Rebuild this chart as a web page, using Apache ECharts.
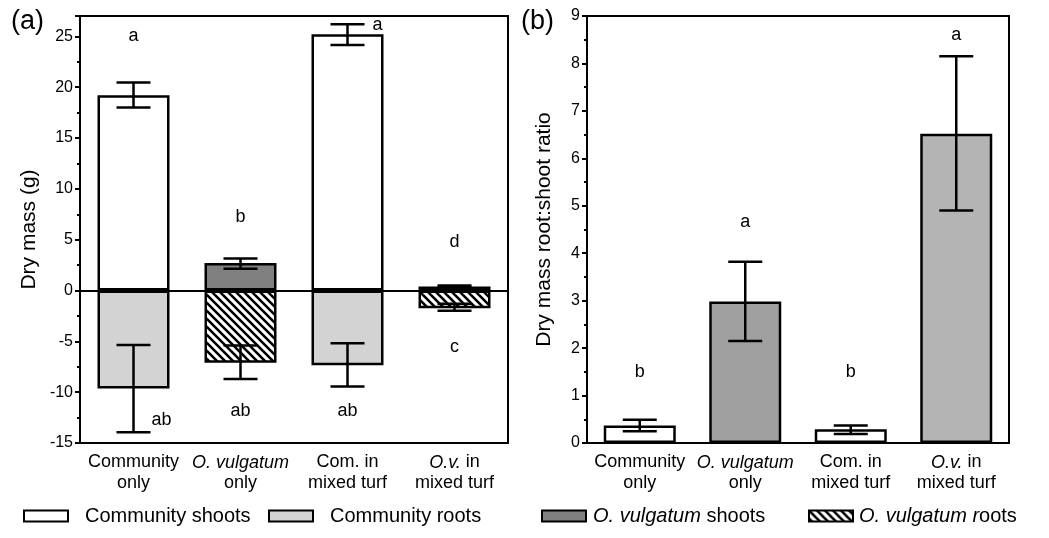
<!DOCTYPE html>
<html>
<head>
<meta charset="utf-8">
<script src="https://cdn.jsdelivr.net/npm/echarts@6/dist/echarts.min.js"></script>
<style>
html, body { margin: 0; padding: 0; background: #fff; }
#main { width: 1049px; height: 538px; }
</style>
</head>
<body>
<div id="main"></div>
<script>
// categories and tick labels
var categories = ['Community only', 'O. vulgatum only', 'Com. in mixed turf', 'O.v. in mixed turf'];
var categoryLabels = ['Community\nonly', '{i|O. vulgatum}\nonly', 'Com. in\nmixed turf', '{i|O.v.} in\nmixed turf'];

// (a) dry mass in g, roots drawn below zero
var communityShoots = [19.2, null, 25.2, null];
var communityRoots = [-9.65, null, -7.35, null];
var ovShoots = [null, 2.7, null, 0.4];
var ovRoots = [null, -7.1, null, -1.75];
// error bars: [category, low, high]
var errorsA = [[0, 18.0, 20.45], [0, -13.95, -5.35], [1, 2.15, 3.15], [1, -8.7, -5.4],
  [2, 24.15, 26.2], [2, -9.45, -5.2], [3, 0.35, 0.5], [3, -2.0, -1.3]];
var lettersA = [[0, 25, 'a'], [1, 7.2, 'b'], [2, 26.1, 'a'], [3, 4.75, 'd'],
  [0, -12.7, 'ab'], [1, -11.9, 'ab'], [2, -11.9, 'ab'], [3, -5.6, 'c']];

// (b) root:shoot ratio
var ratio = [0.37, 2.98, 0.29, 6.52];
var errorsB = [[0, 0.25, 0.49], [1, 2.15, 3.82], [2, 0.19, 0.37], [3, 4.9, 8.15]];
var lettersB = [[0, 1.5, 'b'], [1, 4.65, 'a'], [2, 1.5, 'b'], [3, 8.6, 'a']];

var legendNames = ['Community shoots', 'Community roots', 'O. vulgatum shoots', 'O. vulgatum roots'];

// styling
var FONT = '"Liberation Sans", Arial, sans-serif';
var letterShiftA = [0, 0, 30, 0, 28, 0, 0, 0];
var ratioColors = ['#ffffff', '#a0a0a0', '#ffffff', '#b4b4b4'];
var legendLefts = [23, 268, 541, 808];
var legendPad = [12, 12, 2, 1];

function makeHatch() {
  var c = document.createElement('canvas');
  c.width = 8; c.height = 8;
  var ctx = c.getContext('2d');
  ctx.fillStyle = '#fff';
  ctx.fillRect(0, 0, 8, 8);
  ctx.strokeStyle = '#000';
  ctx.lineWidth = 2.6;
  [-8, 0, 8].forEach(function (k) {
    ctx.beginPath();
    ctx.moveTo(k - 1, -1);
    ctx.lineTo(k + 9, 9);
    ctx.stroke();
  });
  return c;
}
var hatch = { image: makeHatch(), repeat: 'repeat' };

function errorItem(params, api) {
  var x = api.coord([api.value(0), api.value(1)])[0];
  var lo = api.coord([api.value(0), api.value(1)])[1];
  var hi = api.coord([api.value(0), api.value(2)])[1];
  var w = 17;
  var st = { stroke: '#000', lineWidth: 2.5 };
  return {
    type: 'group',
    children: [
      { type: 'line', shape: { x1: x, y1: lo, x2: x, y2: hi }, style: st },
      { type: 'line', shape: { x1: x - w, y1: lo, x2: x + w, y2: lo }, style: st },
      { type: 'line', shape: { x1: x - w, y1: hi, x2: x + w, y2: hi }, style: st }
    ]
  };
}

var blackLine = { color: '#000', width: 2 };

function xAxisFor(idx) {
  return {
    gridIndex: idx,
    type: 'category',
    data: categories,
    axisLine: { onZero: false, lineStyle: blackLine },
    axisTick: { alignWithLabel: true, length: 5, lineStyle: blackLine },
    axisLabel: {
      interval: 0,
      margin: 9,
      color: '#000',
      fontFamily: FONT,
      fontSize: 18,
      lineHeight: 21,
      formatter: function (v, i) { return categoryLabels[i]; },
      rich: { i: { fontStyle: 'italic', fontFamily: FONT, fontSize: 18, lineHeight: 21, color: '#000' } }
    }
  };
}

function yAxisFor(idx, min, max, interval, name, gap) {
  return {
    gridIndex: idx,
    type: 'value',
    min: min,
    max: max,
    interval: interval,
    name: name,
    nameLocation: 'middle',
    nameGap: gap,
    nameTextStyle: { fontSize: 21, color: '#000', fontFamily: FONT },
    axisLine: { show: true, lineStyle: blackLine },
    axisTick: { show: true, length: 5, lineStyle: blackLine },
    minorTick: { show: true, splitNumber: 2, length: 3, lineStyle: blackLine },
    axisLabel: { fontSize: 16, color: '#000', fontFamily: FONT, margin: 7, showMaxLabel: idx === 1 },
    splitLine: { show: false }
  };
}

function barSeries(name, data, color) {
  return {
    name: name,
    type: 'bar',
    xAxisIndex: 0,
    yAxisIndex: 0,
    stack: 'mass',
    barWidth: 72,
    data: data,
    itemStyle: { color: color, borderColor: '#000', borderWidth: 2.5 }
  };
}

function letterSeries(idx, list, shifts) {
  return {
    type: 'custom',
    xAxisIndex: idx,
    yAxisIndex: idx,
    silent: true,
    z: 6,
    encode: { x: 0, y: 1 },
    data: list,
    renderItem: function (params, api) {
      var p = api.coord([api.value(0), api.value(1)]);
      var dx = shifts ? shifts[params.dataIndex] : 0;
      return {
        type: 'text',
        x: p[0] + dx,
        y: p[1],
        style: {
          text: list[params.dataIndex][2],
          fill: '#000',
          font: '18px ' + FONT,
          align: 'center',
          verticalAlign: 'middle'
        }
      };
    }
  };
}

var shootsA = barSeries('Community shoots', communityShoots, '#ffffff');
shootsA.markLine = {
  silent: true,
  symbol: 'none',
  label: { show: false },
  lineStyle: { color: '#000', width: 2, type: 'solid' },
  data: [{ yAxis: 0 }]
};

var myChart = echarts.init(document.getElementById('main'));
myChart.setOption({
  animation: false,
  textStyle: { fontFamily: FONT },
  title: [
    { text: '(a)', left: 11, top: 8, padding: 0, textStyle: { fontSize: 27, fontWeight: 'normal', color: '#000', fontFamily: FONT } },
    { text: '(b)', left: 521, top: 8, padding: 0, textStyle: { fontSize: 27, fontWeight: 'normal', color: '#000', fontFamily: FONT } }
  ],
  legend: legendNames.map(function (n, i) {
    return {
      data: [n],
      left: legendLefts[i],
      top: 506,
      padding: 0,
      icon: 'rect',
      itemWidth: 44,
      itemHeight: 11,
      selectedMode: false,
      itemStyle: { borderColor: '#000', borderWidth: 2 },
      formatter: function (name) {
        if (name === 'O. vulgatum shoots') return '{i|O. vulgatum} shoots';
        if (name === 'O. vulgatum roots') return '{i|O. vulgatum r}oots';
        return name;
      },
      textStyle: {
        fontSize: 20,
        color: '#000',
        fontFamily: FONT,
        padding: [0, 0, 0, legendPad[i]],
        rich: { i: { fontStyle: 'italic', fontSize: 20, color: '#000', fontFamily: FONT } }
      }
    };
  }),
  grid: [
    { left: 80, right: 541, top: 16, bottom: 95, show: true, borderColor: '#000', borderWidth: 2 },
    { left: 587, right: 40, top: 16, bottom: 95, show: true, borderColor: '#000', borderWidth: 2 }
  ],
  xAxis: [xAxisFor(0), xAxisFor(1)],
  yAxis: [
    yAxisFor(0, -15, 27, 5, 'Dry mass (g)', 40),
    yAxisFor(1, 0, 9, 1, 'Dry mass root:shoot ratio', 32)
  ],
  series: [
    shootsA,
    barSeries('Community roots', communityRoots, '#d3d3d3'),
    barSeries('O. vulgatum shoots', ovShoots, '#808080'),
    barSeries('O. vulgatum roots', ovRoots, hatch),
    {
      type: 'custom',
      xAxisIndex: 0,
      yAxisIndex: 0,
      renderItem: errorItem,
      encode: { x: 0, y: [1, 2] },
      data: errorsA,
      z: 5
    },
    letterSeries(0, lettersA, letterShiftA),
    {
      name: 'Root:shoot ratio',
      type: 'bar',
      xAxisIndex: 1,
      yAxisIndex: 1,
      barWidth: 72,
      data: ratio.map(function (v, i) {
        return { value: v, itemStyle: { color: ratioColors[i] } };
      }),
      itemStyle: { borderColor: '#000', borderWidth: 2.5 }
    },
    {
      type: 'custom',
      xAxisIndex: 1,
      yAxisIndex: 1,
      renderItem: errorItem,
      encode: { x: 0, y: [1, 2] },
      data: errorsB,
      z: 5
    },
    letterSeries(1, lettersB, null)
  ]
});
window.addEventListener('resize', function () {
  myChart.resize();
});
</script>
</body>
</html>
